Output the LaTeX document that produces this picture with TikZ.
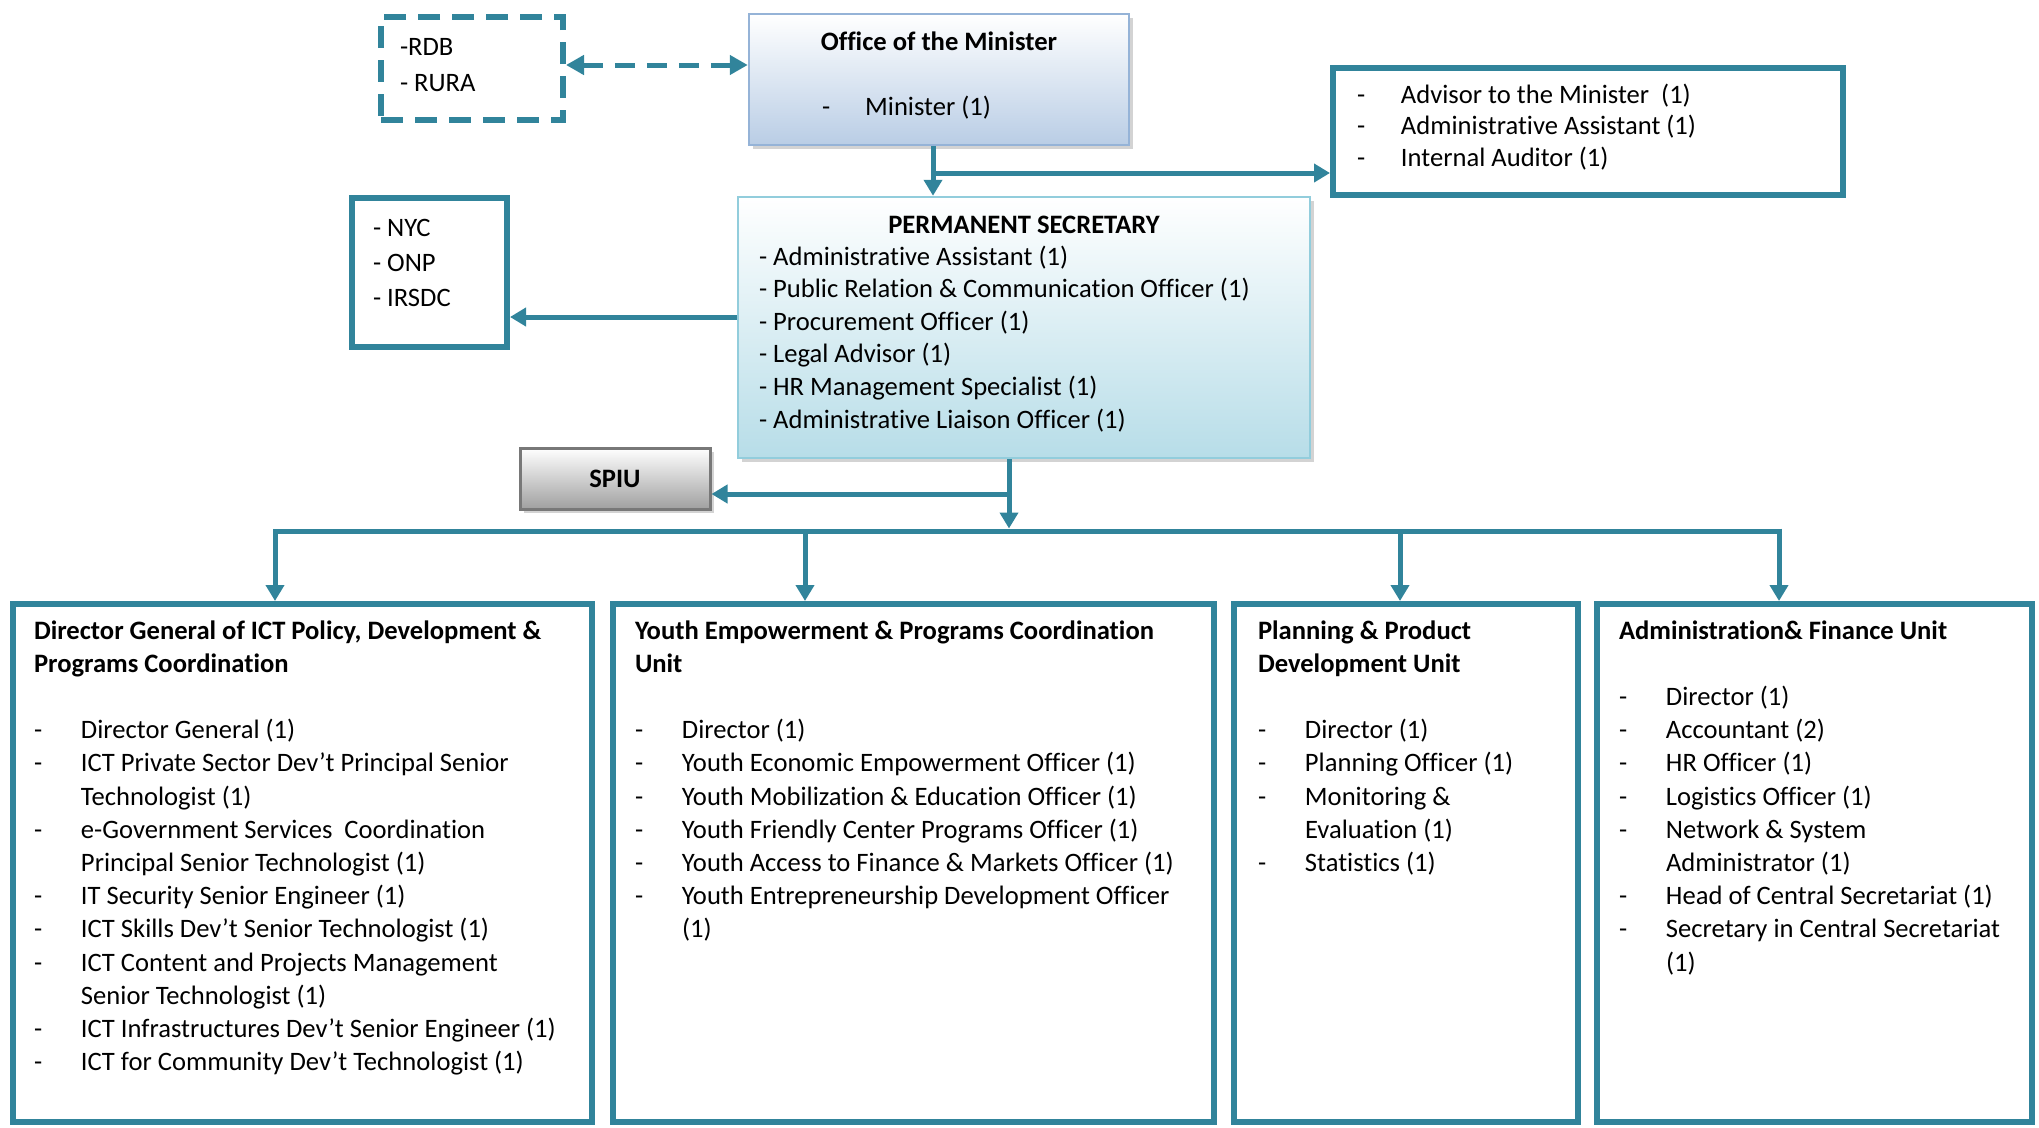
\documentclass[tikz,border=0pt]{standalone}
\usepackage{fontspec}
\setmainfont{Carlito}[Ligatures={NoCommon,NoRare,NoContextual},RawFeature={-liga;-dlig;-clig;-calt}]
\usetikzlibrary{arrows.meta,shadows}
\definecolor{tealline}{RGB}{49,132,155}
\definecolor{minborder}{RGB}{149,179,215}
\definecolor{minbottom}{RGB}{185,205,229}
\definecolor{psborder}{RGB}{146,205,220}
\definecolor{psbottom}{RGB}{183,221,232}
\definecolor{spiuborder}{RGB}{120,120,120}
\definecolor{spiubottom}{RGB}{160,160,160}
\newcommand{\orgitem}[1]{\makebox[47pt][l]{-}#1}
\newcommand{\orgcont}[1]{\hspace*{47pt}#1}
\begin{document}
\begin{tikzpicture}[x=1pt,y=-1pt,
  font=\fontsize{26.6pt}{33.2pt}\selectfont,
  conn/.style={draw=tealline, line width=5pt},
  arr/.style={-{Triangle[length=16pt,width=18pt]}},
  ubox/.style={draw=tealline, line width=6pt, fill=white, inner sep=0pt},
  shadowed/.style={drop shadow={shadow xshift=4pt,shadow yshift=-4pt,opacity=0.35}},
  minbox/.style={shadowed, draw=minborder, line width=2.5pt, top color=white, bottom color=minbottom, inner sep=0pt},
  psbox/.style={shadowed, draw=psborder, line width=2.5pt, top color=white, bottom color=psbottom, inner sep=0pt},
  spiubox/.style={shadowed, draw=spiuborder, line width=3pt, top color=white, bottom color=spiubottom, inner sep=0pt, font=\fontsize{26.6pt}{33.2pt}\selectfont\bfseries},
  txt/.style={inner sep=0pt, outer sep=0pt, align=left, anchor=north west},
  ttl/.style={inner sep=0pt, outer sep=0pt, anchor=base, font=\fontsize{26.6pt}{33.2pt}\selectfont\bfseries}
]
\useasboundingbox (0,0) rectangle (2039,1127);

% boxes
\node[draw=tealline, line width=6pt, dash pattern=on 22pt off 12pt, inner sep=0pt,
      minimum width=182pt, minimum height=103pt] (ext) at (472,68.5) {};
\node[minbox, minimum width=380pt, minimum height=131pt] (min) at (939,79.5) {};
\node[ubox, minimum width=510pt, minimum height=127pt] (adv) at (1588,131.5) {};
\node[psbox, minimum width=572pt, minimum height=261pt] (ps) at (1024,327.5) {};
\node[ubox, minimum width=155pt, minimum height=149pt] (nyc) at (429.5,272.5) {};
\node[spiubox, minimum width=190pt, minimum height=61pt] (spiu) at (615,478.5) {SPIU};
\node[ubox, minimum width=579pt, minimum height=518pt] (b1) at (302.5,863) {};
\node[ubox, minimum width=601pt, minimum height=518pt] (b2) at (913.5,863) {};
\node[ubox, minimum width=344pt, minimum height=518pt] (b3) at (1406,863) {};
\node[ubox, minimum width=435pt, minimum height=518pt] (b4) at (1814.5,863) {};

% texts
\node[txt, font=\fontsize{26.6pt}{36pt}\selectfont] (extt) at (400,30.3) {\strut-RDB\\- RURA};
\node[ttl] (mint) at (939,50.5) {Office of the Minister};
\node[inner sep=0pt, anchor=base west] (minl) at (822,115.5) {\makebox[43pt][l]{-}Minister (1)};
\node[txt, font=\fontsize{26.6pt}{31.5pt}\selectfont] (advt) at (1357,81) {\strut\makebox[44pt][l]{-}Advisor to the Minister \ (1)\\
  \makebox[44pt][l]{-}Administrative Assistant (1)\\
  \makebox[44pt][l]{-}Internal Auditor (1)};
\node[ttl] (pst) at (1024,233) {PERMANENT SECRETARY};
\node[txt, font=\fontsize{26.6pt}{32.6pt}\selectfont] (psl) at (759,242.2) {\strut- Administrative Assistant (1)\\
  - Public Relation \& Communication Officer (1)\\
  - Procurement Officer (1)\\
  - Legal Advisor (1)\\
  - HR Management Specialist (1)\\
  - Administrative Liaison Officer (1)};
\node[txt, font=\fontsize{26.6pt}{35pt}\selectfont] (nyct) at (373,212) {\strut- NYC\\- ONP\\- IRSDC};

\node[txt] (t1) at (34,615.8) {\strut\textbf{Director General of ICT Policy, Development \&}\\
  \textbf{Programs Coordination}\\[33.2pt]
  \orgitem{Director General (1)}\\
  \orgitem{ICT Private Sector Dev’t Principal Senior}\\
  \orgcont{Technologist (1)}\\
  \orgitem{e-Government Services \ Coordination}\\
  \orgcont{Principal Senior Technologist (1)}\\
  \orgitem{IT Security Senior Engineer (1)}\\
  \orgitem{ICT Skills Dev’t Senior Technologist (1)}\\
  \orgitem{ICT Content and Projects Management}\\
  \orgcont{Senior Technologist (1)}\\
  \orgitem{ICT Infrastructures Dev’t Senior Engineer (1)}\\
  \orgitem{ICT for Community Dev’t Technologist (1)}};
\node[txt] (t2) at (635,615.8) {\strut\textbf{Youth Empowerment \& Programs Coordination}\\
  \textbf{Unit}\\[33.2pt]
  \orgitem{Director (1)}\\
  \orgitem{Youth Economic Empowerment Officer (1)}\\
  \orgitem{Youth Mobilization \& Education Officer (1)}\\
  \orgitem{Youth Friendly Center Programs Officer (1)}\\
  \orgitem{Youth Access to Finance \& Markets Officer (1)}\\
  \orgitem{Youth Entrepreneurship Development Officer}\\
  \orgcont{(1)}};
\node[txt] (t3) at (1258,615.8) {\strut\textbf{Planning \& Product}\\
  \textbf{Development Unit}\\[33.2pt]
  \orgitem{Director (1)}\\
  \orgitem{Planning Officer (1)}\\
  \orgitem{Monitoring \&}\\
  \orgcont{Evaluation (1)}\\
  \orgitem{Statistics (1)}};
\node[txt] (t4) at (1619,615.8) {\strut\textbf{Administration\& Finance Unit}\\[33.2pt]
  \orgitem{Director (1)}\\
  \orgitem{Accountant (2)}\\
  \orgitem{HR Officer (1)}\\
  \orgitem{Logistics Officer (1)}\\
  \orgitem{Network \& System}\\
  \orgcont{Administrator (1)}\\
  \orgitem{Head of Central Secretariat (1)}\\
  \orgitem{Secretary in Central Secretariat}\\
  \orgcont{(1)}};

% connectors
\coordinate (j1) at (933,173);
\coordinate (j2) at (737,317);
\coordinate (j3) at (1009,494);
\coordinate (busL) at (275,531);
\coordinate (busR) at (1779,531);
\coordinate (d2) at (805,531);
\coordinate (d3) at (1400,531);

\draw[conn, dash pattern=on 20pt off 12pt,
  {Triangle[length=18pt,width=19pt]}-{Triangle[length=18pt,width=19pt]}]
  ([yshift=3.5pt]ext.east) -- ([yshift=3.5pt]ext.east -| min.west);
\draw[conn,arr] (min.south -| j1) -- (ps.north -| j1);
\draw[conn,arr] (j1) -- (adv.west |- j1);
\draw[conn,arr] (ps.west |- j2) -- (nyc.east |- j2);
\draw[conn,arr] (ps.south -| j3) -- ([yshift=2.5pt]busL -| j3);
\draw[conn,arr] (j3) -- (spiu.east |- j3);
\draw[conn,arr] (busR) -- (busL) -- (b1.north -| busL);
\draw[conn,arr] ([yshift=2.5pt]busR) -- (b4.north -| busR);
\draw[conn,arr] (d2) -- (b2.north -| d2);
\draw[conn,arr] (d3) -- (b3.north -| d3);
\end{tikzpicture}
\end{document}
